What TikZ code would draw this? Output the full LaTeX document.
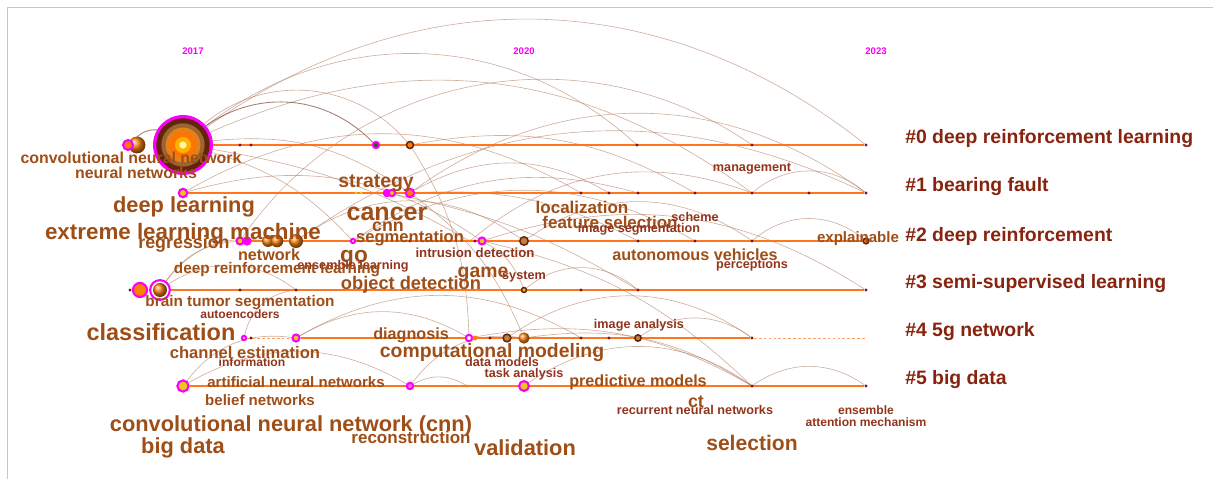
\documentclass[tikz,border=0pt]{standalone}
\usepackage{fontspec}
\setmainfont{Liberation Sans}
\usepackage{tikz}
\usetikzlibrary{positioning,backgrounds}
\definecolor{kwbrown}{RGB}{158,78,22}
\definecolor{kwred}{RGB}{146,52,28}
\definecolor{clred}{RGB}{135,35,14}
\definecolor{hubmag}{RGB}{250,0,250}
\definecolor{laneorange}{RGB}{255,118,30}
\definecolor{tickred}{RGB}{120,22,22}
\definecolor{arcbrown}{RGB}{176,122,96}
\definecolor{darkbrown}{RGB}{100,36,10}
\definecolor{burstyellow}{RGB}{235,200,20}
\tikzset{
  lane/.style={draw=laneorange,line width=1.4pt},
  dlane/.style={draw=laneorange!70,line width=0.7pt,dash pattern=on 2pt off 1.5pt},
  arc/.style={draw=arcbrown,line width=0.45pt,opacity=0.6},
  darc/.style={draw=darkbrown,line width=0.6pt,opacity=0.6},
  kw/.style={text=kwbrown,inner sep=0pt,font=\fontsize{#1}{#1}\selectfont\bfseries},
  kwr/.style={kw=#1,text=kwred},
  cluster/.style={text=clred,inner sep=0pt,anchor=west,font=\fontsize{13.8}{14}\selectfont\bfseries},
  year/.style={text=hubmag,inner sep=0pt,font=\fontsize{6.8}{7}\selectfont\bfseries},
  tick/.style={circle,fill=tickred,inner sep=0pt,minimum size=2.2pt},
  burst/.style={circle,draw=hubmag,line width=1.5pt,fill=burstyellow,inner sep=0pt,minimum size=#1},
  ring/.style={circle,draw=darkbrown,line width=1.1pt,fill=orange,inner sep=0pt,minimum size=#1},
  ball/.style={circle,ball color=orange!80!brown,inner sep=0pt,minimum size=#1},
  hub/.style={circle,fill=hubmag,inner sep=0pt,minimum size=42.6pt}
}
\begin{document}
\begin{tikzpicture}[x=0.025cm,y=-0.025cm]
  \useasboundingbox (0,0) rectangle (1213,479);
  \draw[gray!45,line width=0.6pt] (1213,7) -| (7,479);

  % years
  \node[year] (y17) at (193,51) {2017};
  \node[year] (y20) at (524,51) {2020};
  \node[year] (y23) at (876,51) {2023};

  % lane 0
  \node[ball=12pt] (c0b) at (137,145) {};
  \node[burst=7pt,fill=orange] (c0a) at (128,145) {};
  \node[hub] (cnn) at (183,145) {};
  \fill[darkbrown] (cnn) circle (19pt);
  \fill[brown!80!black] (cnn) circle (15.4pt);
  \fill[orange!60!brown] (cnn) circle (12.4pt);
  \fill[orange!90!red] (cnn) circle (9.2pt);
  \fill[orange!60!yellow] (cnn) circle (5.7pt);
  \fill[yellow!40] (cnn) circle (2.6pt);
  \node[tick] (t0a) at (240,145) {};
  \node[tick] (t0b) at (251,145) {};
  \node[burst=4.5pt,fill=green!45!black] (c0c) at (376,145) {};
  \node[ring=5pt] (c0d) at (410,145) {};
  \node[tick] (t0c) at (637,145) {};
  \node[tick] (t0d) at (752,145) {};
  \node[tick] (e0) at (866,145) {};

  % lane 1
  \node[burst=6pt] (c1a) at (183,193) {};
  \node[tick,fill=burstyellow] (t1a) at (356,193) {};
  \node[tick,fill=burstyellow] (t1b) at (361,193) {};
  \node[burst=4.5pt,fill=hubmag] (c1b) at (387,193) {};
  \node[burst=4.5pt] (c1c) at (392,193) {};
  \node[burst=6pt,fill=orange] (c1d) at (410,193) {};
  \node[tick] (t1c) at (581,193) {};
  \node[tick] (t1d) at (609,193) {};
  \node[tick] (t1e) at (638,193) {};
  \node[tick] (t1f) at (695,193) {};
  \node[tick] (t1g) at (752,193) {};
  \node[tick] (t1h) at (809,193) {};
  \node[tick] (e1) at (866,193) {};

  % lane 2
  \node[burst=5pt] (c2a) at (240,241) {};
  \node[burst=5pt,fill=hubmag] (c2b) at (247,241) {};
  \node[ball=8.5pt] (b2a) at (268,241) {};
  \node[ball=9pt] (b2b) at (277,241) {};
  \node[ball=10pt] (b2c) at (296,241) {};
  \node[burst=3pt,fill=white] (c2c) at (353,241) {};
  \node[tick] (t2a) at (410,241) {};
  \node[tick,fill=orange] (t2b) at (470,241) {};
  \node[tick] (t2c) at (475,241) {};
  \node[burst=5pt] (c2d) at (482,241) {};
  \node[ring=6pt,fill=brown] (b2d) at (524,241) {};
  \node[tick] (t2d) at (638,241) {};
  \node[tick] (t2e) at (695,241) {};
  \node[tick] (t2f) at (752,241) {};
  \node[ring=4pt] (e2) at (866,241) {};

  % lane 3
  \node[tick] (t3a) at (130,290) {};
  \node[burst=10pt,fill=orange] (c3a) at (140,290) {};
  \node[burst=14pt,fill=white] (c3b) at (160,290) {};
  \node[ball=10pt] (b3b) at (160,290) {};
  \node[tick] (t3b) at (240,290) {};
  \node[tick] (t3c) at (296,290) {};
  \node[ring=3.5pt,fill=burstyellow] (c3c) at (524,290) {};
  \node[tick] (t3d) at (581,290) {};
  \node[tick,fill=red!70!black] (t3e) at (638,290) {};
  \node[tick] (e3) at (866,290) {};

  % lane 4
  \node[burst=3pt,fill=white] (c4a) at (244,338) {};
  \node[tick] (t4a) at (251,338) {};
  \node[burst=5pt] (c4b) at (296,338) {};
  \node[burst=4.5pt,fill=white] (c4c) at (469,338) {};
  \node[tick,fill=orange,minimum size=3.5pt] (t4b) at (475,338) {};
  \node[tick] (t4c) at (490,338) {};
  \node[ring=5.5pt,fill=brown] (b4a) at (507,338) {};
  \node[ball=8pt] (b4b) at (524,338) {};
  \node[tick] (t4d) at (581,338) {};
  \node[tick] (t4e) at (609,338) {};
  \node[ring=4.5pt,fill=brown] (c4d) at (638,338) {};
  \node[tick] (t4f) at (752,338) {};
  \coordinate (e4) at (866,338);

  % lane 5
  \node[burst=8pt] (c5a) at (183,386) {};
  \node[burst=4.5pt,fill=hubmag!60] (c5b) at (410,386) {};
  \node[tick,fill=orange!70!brown] (t5a) at (467,386) {};
  \node[burst=7pt] (c5c) at (524,386) {};
  \node[tick] (t5b) at (752,386) {};
  \node[tick] (e5) at (866,386) {};

  \begin{scope}[on background layer,every edge/.style={arc}]
    \path (cnn) edge[bend left=37] (e0)
          (cnn) edge[bend left=30] (t1g)
          (cnn) edge[bend left=40] (t0c)
          (cnn) edge[bend left=45] (c0d)
          (cnn) edge[darc,bend left=40] (c0c)
          (cnn) edge[bend left=20] (c1d)
          (cnn) edge[bend left=15] (c2c)
          (cnn) edge[bend left=10] (t2b)
          (c0a) edge[darc,bend left=30] (cnn)
          (c2a) edge[bend left=45] (t0d)
          (b2c) edge[bend left=30] (e1)
          (c1d) edge[bend left=36] (e1)
          (c1a) edge[bend left=25] (c2d)
          (c1a) edge[bend left=30] (t1c)
          (c1d) edge[bend left=30] (t1d)
          (c1d) edge[bend left=15] (t2d)
          (c1d) edge[bend left=15] (b4b)
          (c1b) edge[bend left=10] (t3e)
          (c0d) edge[bend left=20] (t1f)
          (c0d) edge[bend left=15] (c4c)
          (t1g) edge[bend left=40] (e1)
          (b2c) edge[bend left=35] (b2d)
          (c2c) edge[bend left=30] (t2e)
          (c2c) edge[bend left=25] (t1e)
          (t2b) edge[bend left=30] (t1g)
          (b2d) edge[bend left=35] (t2f)
          (t2f) edge[bend left=40] (e2)
          (c2d) edge[bend left=25] (e3)
          (c2d) edge[bend left=20] (c3c)
          (c2d) edge[bend left=15] (t5b)
          (c3b) edge[bend left=25] (c2a)
          (c3b) edge[bend left=30] (b2a)
          (c3b) edge[bend left=35] (t3c)
          (c3c) edge[bend left=40] (t3e)
          (c4a) edge[bend left=35] (t3c)
          (c4b) edge[bend left=30] (c4c)
          (c4b) edge[bend left=30] (t4d)
          (b4a) edge[bend left=35] (t4f)
          (c4d) edge[bend left=35] (t4f)
          (b4b) edge[bend left=20] (t5b)
          (c4c) edge[bend left=20] (t5b)
          (c5a) edge[bend left=30] (c4b)
          (c5a) edge[bend left=30] (c5b)
          (c5b) edge[bend left=30] (b4b)
          (c5b) edge[bend left=30] (t5a)
          (c5c) edge[bend left=35] (t5b)
          (t5b) edge[bend left=35] (e5);
    % timelines
    \draw[lane] (cnn) -- (e0);
    \draw[lane] (c1a) -- (e1);
    \draw[lane] (c2a) -- (e2);
    \draw[lane] (c3b) -- (e3);
    \draw[dlane] (c4a) -- (c4b);
    \draw[lane] (c4b) -- (t4f);
    \draw[dlane] (t4f) -- (e4);
    \draw[lane] (c5a) -- (e5);
  \end{scope}

  % keywords
  \node[kw=11.3] (kcnn) at (131,158) {convolutional neural network};
  \node[kw=11.3] (knn) at (136,173) {neural networks};
  \node[kw=13.8] (kstr) at (376,183) {strategy};
  \node[kw=15.5] (kdl) at (184,207) {deep learning};
  \node[kw=17.8] (kcan) at (387,214) {cancer};
  \node[kw=12.7] (kcnn2) at (388,227) {cnn};
  \node[kw=12.1] (kloc) at (582,207) {localization};
  \node[kw=12.1] (kfs) at (610,222) {feature selection};
  \node[kwr=9] (kis) at (639,229) {image segmentation};
  \node[kwr=9] (ksch) at (695,217) {scheme};
  \node[kwr=9] (kman) at (752,169) {management};
  \node[kw=15.9] (kelm) at (183,234) {extreme learning machine};
  \node[kw=12.7] (kreg) at (184,244) {regression};
  \node[kw=11.8] (kseg) at (410,238) {segmentation};
  \node[kw=10.7] (kxai) at (858,239) {explainable};
  \node[kw=11.5] (knet) at (269,255) {network};
  \node[kwr=9.4] (kid) at (475,253) {intrusion detection};
  \node[kw=11.5] (kav) at (695,255) {autonomous vehicles};
  \node[kwr=9] (kper) at (752,265) {perceptions};
  \node[kw=16.1] (kgo) at (354,259) {go};
  \node[kwr=9] (kel) at (353,266) {ensemble learning};
  \node[kw=10.9] (kdrl) at (277,270) {deep reinforcement learning};
  \node[kw=13.8] (kgame) at (483,274) {game};
  \node[kwr=9] (ksys) at (524,277) {system};
  \node[kw=13] (kod) at (411,285) {object detection};
  \node[kw=10.9] (kbts) at (240,303) {brain tumor segmentation};
  \node[kwr=8.6] (kae) at (240,314) {autoencoders};
  \node[kw=16.7] (kcls) at (161,332) {classification};
  \node[kw=11.5] (kdia) at (411,335) {diagnosis};
  \node[kwr=9] (kia) at (639,325) {image analysis};
  \node[kw=11.8] (kce) at (245,353) {channel estimation};
  \node[kw=13.8] (kcm) at (492,353) {computational modeling};
  \node[kwr=8.6] (kinf) at (252,362) {information};
  \node[kwr=9] (kdm) at (502,362) {data models};
  \node[kwr=9] (kta) at (524,374) {task analysis};
  \node[kw=10.7] (kann) at (296,382) {artificial neural networks};
  \node[kw=11.5] (kpm) at (638,382) {predictive models};
  \node[kw=10.7] (kbn) at (260,400) {belief networks};
  \node[kw=12.7] (kct) at (696,402) {ct};
  \node[kwr=9] (krnn) at (695,410) {recurrent neural networks};
  \node[kwr=8.6] (kens) at (866,410) {ensemble};
  \node[kwr=8.6] (kam) at (866,422) {attention mechanism};
  \node[kw=15.5] (kccnn) at (291,426) {convolutional neural network (cnn)};
  \node[kw=12.1] (krec) at (411,437) {reconstruction};
  \node[kw=15.5] (kbd) at (183,448) {big data};
  \node[kw=15.5] (kval) at (525,448) {validation};
  \node[kw=15] (ksel) at (752,443) {selection};

  % clusters
  \node[cluster] (cl0) at (905,139) {\#0 deep reinforcement learning};
  \node[cluster] (cl1) at (905,187) {\#1 bearing fault};
  \node[cluster] (cl2) at (905,236) {\#2 deep reinforcement};
  \node[cluster] (cl3) at (905,284) {\#3 semi-supervised learning};
  \node[cluster] (cl4) at (905,332) {\#4 5g network};
  \node[cluster] (cl5) at (905,380) {\#5 big data};
\end{tikzpicture}
\end{document}
